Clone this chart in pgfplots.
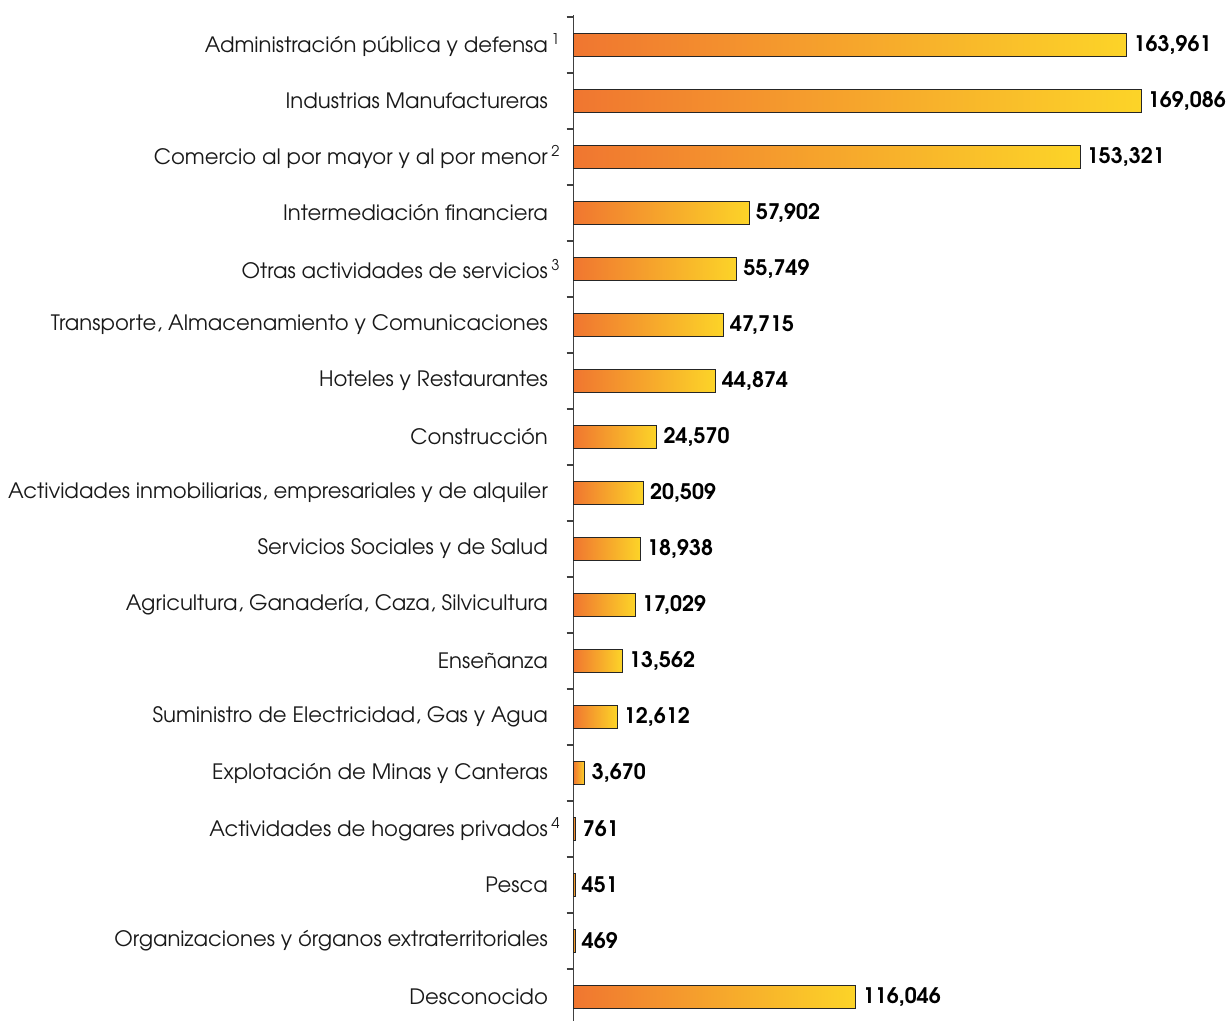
\documentclass[border=0pt]{standalone}
\usepackage{fontspec}
\setmainfont{texgyreadventor}[Extension=.otf, UprightFont=*-regular, BoldFont=*-bold, ItalicFont=*-italic, BoldItalicFont=*-bolditalic]
\usepackage{pgfplots}
\usepackage{pgfplotstable}
\pgfplotsset{compat=1.18}
\definecolor{barL}{RGB}{240,118,48}
\definecolor{barR}{RGB}{252,212,40}
\pgfplotstableread{
idx val lab
0 164830 163,961
1 169086 169,086
2 150920 153,321
3 52420 57,902
4 48670 55,749
5 44680 47,715
6 42290 44,874
7 24840 24,570
8 20850 20,509
9 19960 18,938
10 18470 17,029
11 14590 13,562
12 13020 12,612
13 3480 3,670
14 800 761
15 510 451
16 510 469
17 84200 116,046
}\datatable
\begin{document}
\begin{tikzpicture}
\begin{axis}[
  at={(286.65bp,-7.5bp)}, anchor=north west,
  scale only axis, width=327.35bp, height=503bp,
  xmin=0, xmax=195000, ymin=-0.536, ymax=17.43, y dir=reverse,
  axis y line=left, axis x line=none,
  axis line style={-, draw=black!75, line width=0.6bp},
  ytick={0,...,17},
  yticklabels={
    {Administración pública y defensa\rlap{\,\textsuperscript{1}}},
    {Industrias Manufactureras},
    {Comercio al por mayor y al por menor\rlap{\,\textsuperscript{2}}},
    {Intermediación financiera},
    {Otras actividades de servicios\rlap{\,\textsuperscript{3}}},
    {Transporte, Almacenamiento y Comunicaciones},
    {Hoteles y Restaurantes},
    {Construcción},
    {Actividades inmobiliarias, empresariales y de alquiler},
    {Servicios Sociales y de Salud},
    {Agricultura, Ganadería, Caza, Silvicultura},
    {Enseñanza},
    {Suministro de Electricidad, Gas y Agua},
    {Explotación de Minas y Canteras},
    {Actividades de hogares privados\rlap{\,\textsuperscript{4}}},
    {Pesca},
    {Organizaciones y órganos extraterritoriales},
    {Desconocido}},
  major tick length=0pt,
  minor ytick={-0.5,0.5,...,16.5},
  minor tick length=3.3bp,
  tick align=outside,
  minor tick style={draw=black!75, line width=0.6bp},
  yticklabel style={font=\fontsize{10.6bp}{12bp}\selectfont, text=black!90, anchor=east, inner sep=0pt, xshift=-12.5bp},
  xtick=\empty,
  xbar, bar width=0.41,
  point meta=explicit symbolic,
  nodes near coords={\pgfplotspointmeta},
  nodes near coords style={font=\fontsize{10.7bp}{12bp}\selectfont\bfseries, anchor=west, inner sep=0pt, xshift=3.2bp, text=black},
  clip=false,
]
\pgfplotsinvokeforeach{0,...,17}{
\addplot[xbar, bar shift=0pt, bar width=0.41, draw=black!85, line width=0.5bp, left color=barL, right color=barR, restrict y to domain=#1:#1] table[x=val, y=idx, meta=lab] {\datatable};
}
\end{axis}
\pgfresetboundingbox
\useasboundingbox (0,0) rectangle (614bp,-510.5bp);
\end{tikzpicture}
\end{document}
